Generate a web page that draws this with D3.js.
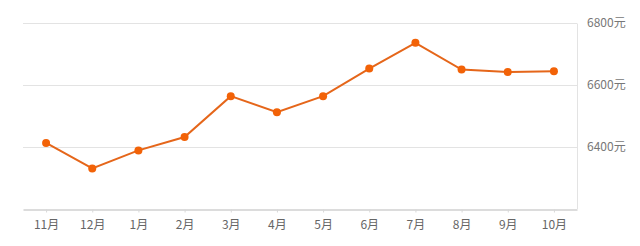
<!DOCTYPE html>
<html>
<head>
<meta charset="utf-8">
<script src="https://cdn.jsdelivr.net/npm/d3@7"></script>
<style>
  body { margin: 0; background: #fff; }
  text { font-family: "Noto Sans CJK SC", "Noto Sans", sans-serif; }
</style>
</head>
<body>
<svg id="chart" width="640" height="246"></svg>
<script>
// months along the bottom
const months = ["11月", "12月", "1月", "2月", "3月", "4月", "5月", "6月", "7月", "8月", "9月", "10月"];
// average price per month (yuan)
const prices = [6413, 6331, 6389, 6432, 6564, 6512, 6564, 6653, 6736, 6650, 6642, 6644];
// right axis ticks
const yTicks = [6400, 6600, 6800];

const svg = d3.select("#chart");
const plotLeft = 23, plotRight = 577, plotTop = 23, plotBottom = 209;

// x scale - one slot per month, dots in the middle of each slot
const xScale = d3.scalePoint().domain(months).range([plotLeft, plotRight]).padding(0.5);
const yScale = d3.scaleLinear().domain([6200, 6800]).range([plotBottom, plotTop]);

// gridlines
svg.append("g")
  .selectAll("line")
  .data(yTicks)
  .enter()
  .append("line")
  .attr("x1", plotLeft).attr("x2", plotRight)
  .attr("y1", d => Math.round(yScale(d)) + 0.5)
  .attr("y2", d => Math.round(yScale(d)) + 0.5)
  .attr("stroke", "#e3e3e3");

// right border of plot
svg.append("line")
  .attr("x1", plotRight + 0.5).attr("x2", plotRight + 0.5)
  .attr("y1", Math.round(yScale(6800)) + 0.5).attr("y2", plotBottom)
  .attr("stroke", "#e3e3e3");

// right axis labels
svg.append("g")
  .selectAll("text")
  .data(yTicks)
  .enter()
  .append("text")
  .attr("x", 587)
  .attr("y", d => yScale(d) + 4)
  .attr("font-size", 12)
  .attr("fill", "#777")
  .text(d => d + "元");

// bottom axis
const xAxis = d3.axisBottom(xScale).tickSize(3).tickSizeOuter(0);
const gx = svg.append("g")
  .attr("transform", `translate(0,${plotBottom + 0.5})`)
  .call(xAxis);
gx.select(".domain").attr("stroke", "#d0d0d0").attr("stroke-width", 1.5);
gx.selectAll(".tick line").attr("stroke", "#d8d8d8");
gx.selectAll(".tick text")
  .attr("font-size", 12)
  .attr("fill", "#666")
  .attr("dy", "1.1em")
  .style("font-family", "'Noto Sans CJK SC', sans-serif");

// line
const line = d3.line()
  .x((d, i) => xScale(months[i]))
  .y(d => yScale(d));

svg.append("path")
  .datum(prices)
  .attr("d", line)
  .attr("fill", "none")
  .attr("stroke", "#e5661a")
  .attr("stroke-width", 2);

// dots
svg.selectAll(".dot")
  .data(prices)
  .enter()
  .append("circle")
  .attr("class", "dot")
  .attr("cx", (d, i) => xScale(months[i]))
  .attr("cy", d => yScale(d))
  .attr("r", 4)
  .attr("fill", "#f26207");
</script>
</body>
</html>
